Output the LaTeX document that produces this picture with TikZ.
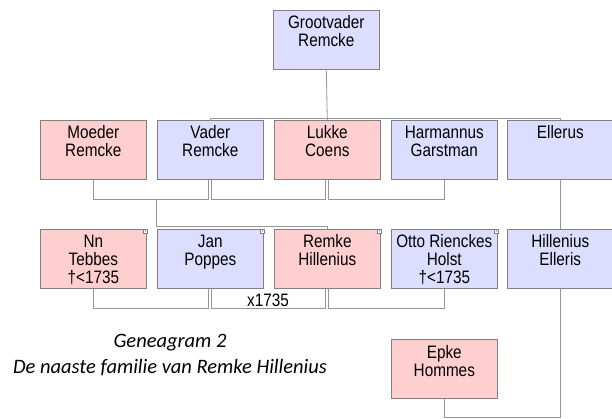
\documentclass[tikz,border=0pt]{standalone}
\usepackage{fontspec}
\newfontfamily\boxfont{Liberation Sans}[FakeStretch=0.85]
\newfontfamily\capfont{Carlito}
\definecolor{roze}{RGB}{255,206,206}
\definecolor{lila}{RGB}{221,221,255}
\definecolor{rand}{RGB}{128,128,128}
\definecolor{lijngrijs}{RGB}{150,150,150}
\newcommand{\naam}[1]{\parbox[c][59pt][t]{106pt}{\centering\rule{0pt}{18.7pt}#1}}

\begin{document}
\begin{tikzpicture}[x=1pt,y=-1pt,
  persoon/.style={draw=rand, line width=0.6pt, inner sep=0pt, anchor=north west,
    font=\boxfont\fontsize{18}{18}\selectfont},
  man/.style={persoon, fill=lila},
  vrouw/.style={persoon, fill=roze},
  lijn/.style={draw=lijngrijs, line width=0.8pt},
  hoekje/.style={draw=rand, fill=white, line width=0.4pt, minimum size=4pt, inner sep=0pt,
    path picture={\fill[rand] (path picture bounding box.center) circle (0.7pt);}},
  onderschrift/.style={anchor=base, font=\capfont\itshape\fontsize{20.5}{22}\selectfont}]
\useasboundingbox (0,0) rectangle (612,419);

% grootvader
\node[man] (groot) at (273,10) {\naam{Grootvader\\Remcke}};

% eerste rij
\node[vrouw] (moeder) at (40,120) {\naam{Moeder\\Remcke}};
\node[man] (vader) at (157,120) {\naam{Vader\\Remcke}};
\node[vrouw] (lukke) at (274,120) {\naam{Lukke\\Coens}};
\node[man] (harmannus) at (391,120) {\naam{Harmannus\\Garstman}};
\node[man] (ellerus) at (507,120) {\naam{Ellerus}};

% tweede rij
\node[vrouw] (nn) at (40,229) {\naam{Nn\\Tebbes\\†<1735}};
\node[man] (jan) at (157,229) {\naam{Jan\\Poppes}};
\node[vrouw] (remke) at (274,229) {\naam{Remke\\Hillenius}};
\node[man] (otto) at (391,229) {\naam{Otto Rienckes\\Holst\\†<1735}};
\node[man] (hillenius) at (507,229) {\naam{Hillenius\\Elleris}};

% derde rij
\node[vrouw] (epke) at (391,339) {\naam{Epke\\Hommes}};

\foreach \p in {nn,jan,remke,otto}
  \node[hoekje] (hoek\p) at ([xshift=-1pt,yshift=-2pt]\p.north east) {};

% afstamming
\draw[lijn] (groot.south) -- (lukke.north);
\draw[lijn] (vader.north) -- ++(0,-2) -| (ellerus.north);
\draw[lijn] (ellerus.south) -- (hillenius.north);

% huwelijken eerste rij
\draw[lijn] (moeder.south) -- ++(0,20) -| ([xshift=-1.5pt]vader.south);
\draw[lijn] ([xshift=1.5pt]vader.south) -- ++(0,20) -| ([xshift=-1.5pt]lukke.south);
\draw[lijn] ([xshift=1.5pt]lukke.south) -- ++(0,20) -| (harmannus.south);
\coordinate (kind) at (156,199);
\draw[lijn] (kind) -- ++(0,27) -| (remke.north);

% huwelijken tweede rij
\draw[lijn] (nn.south) -- ++(0,20) -| ([xshift=-1.5pt]jan.south);
\draw[lijn] ([xshift=1.5pt]jan.south) -- ++(0,20) -| ([xshift=-1.5pt]remke.south);
\draw[lijn] ([xshift=1.5pt]remke.south) -- ++(0,20) -| (otto.south);
\draw[lijn] (hillenius.south) -- ++(0,129) -| (epke.south);
\node[anchor=base, font=\boxfont\fontsize{18}{18}\selectfont] (jaartal) at (268,306) {x1735};

% onderschrift
\node[onderschrift] (titel) at (170,347) {Geneagram 2};
\node[onderschrift] (ondertitel) at (170,373) {De naaste familie van Remke Hillenius};
\end{tikzpicture}
\end{document}
